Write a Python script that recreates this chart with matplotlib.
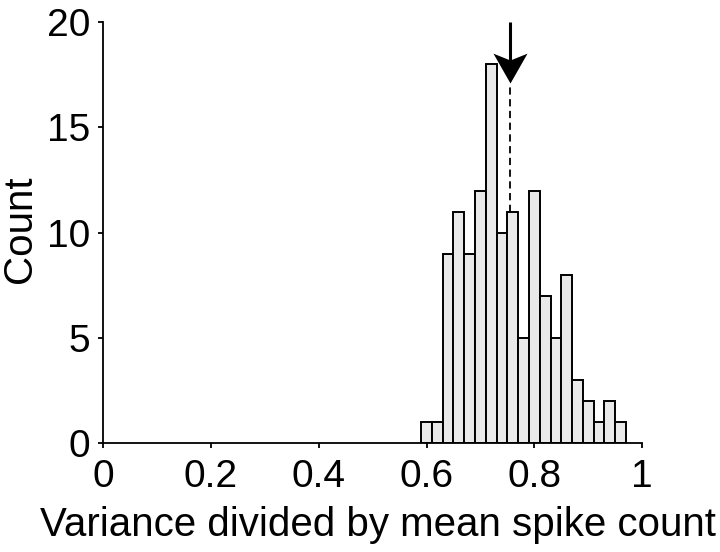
import matplotlib
matplotlib.use("Agg")
import matplotlib.pyplot as plt
from matplotlib.path import Path
import numpy as np

bin_centers = [0.60, 0.62, 0.64, 0.66, 0.68, 0.70, 0.72, 0.74, 0.76, 0.78,
               0.80, 0.82, 0.84, 0.86, 0.88, 0.90, 0.92, 0.94, 0.96]
counts = [1, 1, 9, 11, 9, 12, 18, 10, 11, 5, 12, 7, 5, 8, 3, 2, 1, 2, 1]
bin_width = 0.02
mean_value = 0.754
arrow_top = 20.0
arrow_tip = 17.1
dash_bottom = 11.0
x_ticks = [0, 0.2, 0.4, 0.6, 0.8, 1.0]
x_ticklabels = ["0", "0.2", "0.4", "0.6", "0.8", "1"]
y_ticks = [0, 5, 10, 15, 20]

plt.rcParams['font.family'] = ['Liberation Sans', 'DejaVu Sans']

fig = plt.figure(figsize=(7.2, 5.52), dpi=100)
ax = fig.add_axes([0.143, 0.197, 0.749, 0.763])

ax.bar(bin_centers, counts, width=bin_width, color="#e9e9e9",
       edgecolor="black", linewidth=1.4, zorder=2)

# dashed line from arrow tip down to bar top
ax.plot([mean_value, mean_value], [dash_bottom, arrow_tip], color="black",
        linestyle=(0, (4, 2.5)), linewidth=1.3, zorder=3)
# arrow shaft
ax.plot([mean_value, mean_value], [arrow_top, arrow_tip + 1.0], color="black",
        linewidth=2.2, solid_capstyle="butt", zorder=4, clip_on=False)
# arrow head (concave-back shape) as a custom marker, tip at origin
head_path = Path([(0, 0), (0.57, 1.0), (0, 0.77), (-0.57, 1.0), (0, 0)],
                 [Path.MOVETO, Path.LINETO, Path.LINETO, Path.LINETO, Path.CLOSEPOLY])
ax.plot([mean_value], [arrow_tip], marker=head_path, markersize=43,
        color="black", markeredgewidth=0, linestyle="none", zorder=5, clip_on=False)

ax.set_xlim(0, 1.0)
ax.set_ylim(0, 20)
ax.set_xticks(x_ticks)
ax.set_xticklabels(x_ticklabels)
ax.set_yticks(y_ticks)
ax.spines['top'].set_visible(False)
ax.spines['right'].set_visible(False)
for s in ['left', 'bottom']:
    ax.spines[s].set_linewidth(1.3)
ax.tick_params(axis='both', direction='out', length=3.5, width=1.3, labelsize=28)
ax.tick_params(axis='x', pad=8)
ax.tick_params(axis='y', pad=5.5)

ax.set_xlabel("Variance divided by mean spike count", fontsize=29)
ax.xaxis.set_label_coords(0.51, -0.150)
ax.set_ylabel("Count", fontsize=29, va='center')
ax.yaxis.set_label_coords(-0.154, 0.508)

fig.savefig("out.png", dpi=100)
